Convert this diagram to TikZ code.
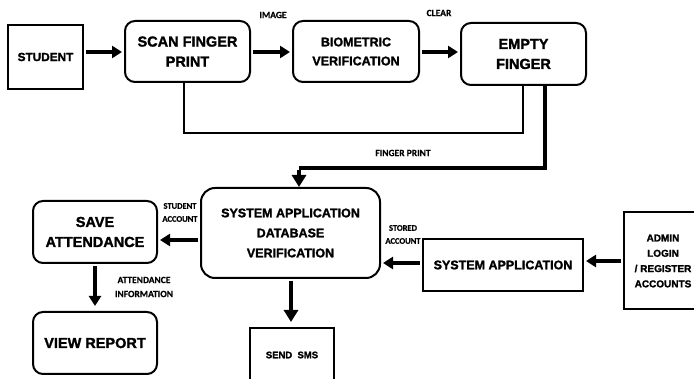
\documentclass[tikz,border=0pt]{standalone}
\usepackage{fontspec}
\setmainfont{Liberation Sans}[BoldFeatures={FakeBold=1.6}]
\newfontfamily\lblfont{Carlito}[BoldFeatures={FakeBold=0.4}]
\usetikzlibrary{arrows.meta,calc}

\tikzset{
  box/.style={draw, line width=2pt, align=center, inner sep=0pt,
              font=\bfseries},
  rbox/.style={box, rounded corners=10pt},
  flow/.style={line width=4.5pt, -{Triangle[width=12pt,length=10pt]},
               shorten <=2pt, shorten >=2pt},
  dflow/.style={line width=4.5pt, -{Triangle[width=14pt,length=12pt]}},
  thinlink/.style={line width=1.6pt},
  thicklink/.style={line width=4pt},
  lbl/.style={font=\lblfont\bfseries\fontsize{9.5}{14}\selectfont, align=center, inner sep=0pt},
  slbl/.style={lbl, font=\lblfont\bfseries\fontsize{8.5}{13}\selectfont},
}

\begin{document}
\begin{tikzpicture}[x=1pt,y=-1pt]
\useasboundingbox (0,0) rectangle (694,379);
\clip (0,0) rectangle (694,379);
\fill[white] (0,0) rectangle (694,379);

% top row
\node[box, minimum width=75pt, minimum height=64pt, font=\bfseries\fontsize{11.8}{13}\selectfont]
  (student) at (45.5,57) {STUDENT};
\node[rbox, minimum width=125pt, minimum height=61pt, font=\bfseries\fontsize{14.5}{20}\selectfont]
  (scan) at (187.5,51.5) {SCAN FINGER\\PRINT};
\node[rbox, minimum width=126pt, minimum height=61pt, font=\bfseries\fontsize{12.5}{19}\selectfont]
  (bio) at (356,51.5) {BIOMETRIC\\VERIFICATION};
\node[rbox, minimum width=125pt, minimum height=62pt, font=\bfseries\fontsize{14.5}{20}\selectfont]
  (empty) at (523.5,54) {EMPTY\\FINGER};

% lower part
\node[rbox, rounded corners=14pt, minimum width=179pt, minimum height=90pt,
      font=\bfseries\fontsize{12.5}{20}\selectfont]
  (sysdb) at (290.5,233) {SYSTEM APPLICATION\\DATABASE\\VERIFICATION};
\node[rbox, minimum width=124pt, minimum height=62pt, font=\bfseries\fontsize{14.5}{20}\selectfont]
  (save) at (95,232) {SAVE\\ATTENDANCE};
\node[rbox, minimum width=124pt, minimum height=62pt, font=\bfseries\fontsize{14.5}{20}\selectfont]
  (view) at (95,343) {VIEW REPORT};
\node[box, minimum width=84pt, minimum height=62pt] (sms) at (292,359) {};
\node[font=\bfseries\fontsize{9.5}{12}\selectfont] (smstext) at (292,355) {SEND\ \ SMS};
\node[box, minimum width=160pt, minimum height=52pt, font=\bfseries\fontsize{12.5}{15}\selectfont]
  (sysapp) at (503,265) {SYSTEM APPLICATION};
\node[box, minimum width=76pt, minimum height=97pt] (admin) at (662,260.5) {};
\node[font=\bfseries\fontsize{10}{15.3}\selectfont, align=center] (admintext) at (663,261)
  {ADMIN\\LOGIN\\/ REGISTER\\ACCOUNTS};

% connector helpers
\coordinate (ytop) at (0,52);
\coordinate (ysave) at (0,240);
\coordinate (ysys) at (0,263);
\coordinate (yadm) at (0,261);
\coordinate (xthin) at (184,0);
\coordinate (xthinr) at (523,0);
\coordinate (ythin) at (0,133);
\coordinate (xthick) at (545,0);
\coordinate (ythick) at (0,168);
\coordinate (xdown) at (299,0);
\coordinate (xsms) at (291,0);

% top-row arrows
\draw[flow] (student.east |- ytop) -- (scan.west |- ytop);
\draw[flow] (scan.east |- ytop) -- (bio.west |- ytop);
\draw[flow] (bio.east |- ytop) -- (empty.west |- ytop);

% return loop from empty finger back to scan
\draw[thinlink] (scan.south -| xthin) -- (xthin |- ythin) -- (xthinr |- ythin) -- (empty.south -| xthinr);

% finger print path down to the database verification
\draw[thicklink] (empty.south -| xthick) -- (xthick |- ythick) -- (xdown |- ythick);
\draw[dflow] ([yshift=-2pt]xdown |- ythick) -- (sysdb.north -| xdown);

% lower arrows
\draw[flow] (sysdb.west |- ysave) -- (save.east |- ysave);
\draw[flow, shorten >=5pt] (save.south) -- (view.north);
\draw[flow, shorten >=5pt, -{Triangle[width=14pt,length=12pt]}] (sysdb.south -| xsms) -- (sms.north -| xsms);
\draw[flow] (sysapp.west |- ysys) -- (sysdb.east |- ysys);
\draw[flow] (admin.west |- yadm) -- (sysapp.east |- yadm);

% labels
\node[lbl] (limage) at (273,15) {IMAGE};
\node[lbl] (lclear) at (439,13) {CLEAR};
\node[lbl] (lfp) at (403,153) {FINGER PRINT};
\node[slbl] (lsa) at (180,212.5) {STUDENT\\ACCOUNT};
\node[slbl] (lst) at (403,234.5) {STORED\\ACCOUNT};
\node[lbl] (lai) at (144,287) {ATTENDANCE\\INFORMATION};
\end{tikzpicture}
\end{document}
